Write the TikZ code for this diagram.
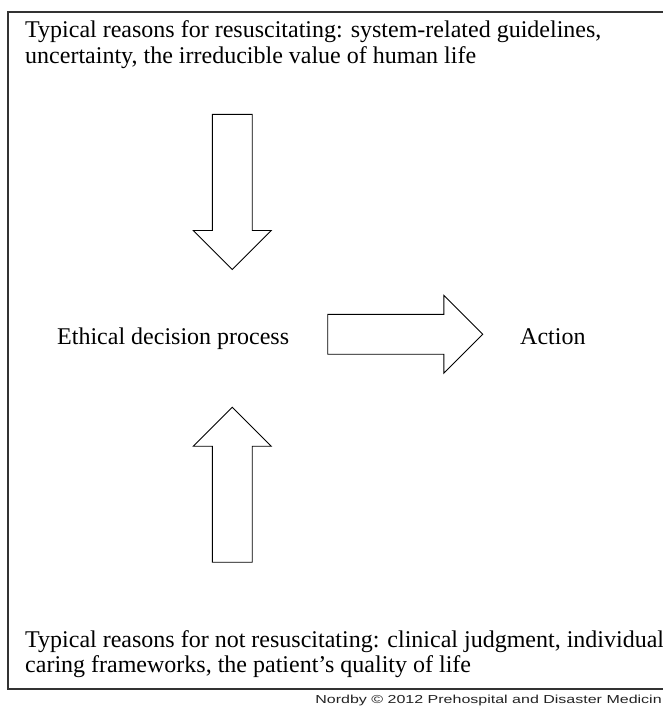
\documentclass[tikz,border=0pt]{standalone}
\usepackage{fontspec}
\setmainfont{Liberation Serif}
\newfontfamily\creditfont{Liberation Sans}
\usetikzlibrary{shapes.arrows, positioning}
\definecolor{framegray}{HTML}{333333}
\definecolor{creditgray}{HTML}{222222}
\tikzset{
  reasontxt/.style = {font=\fontsize{24}{25.5}\selectfont, align=left,
                      anchor=base west, inner sep=0pt},
  steptxt/.style   = {font=\fontsize{24}{25.5}\selectfont,
                      anchor=base west, inner sep=0pt},
  blockarr/.style  = {single arrow, draw=black, line width=0.9pt, fill=white,
                      minimum height=155pt, inner xsep=0pt, inner ysep=19.5pt,
                      single arrow head extend=19pt, anchor=tail},
  credittxt/.style = {font=\creditfont\fontsize{11.6}{12}\selectfont,
                      text=creditgray, anchor=base east, inner sep=0pt,
                      xscale=1.38, transform shape},
}

\begin{document}
\begin{tikzpicture}[x=1pt, y=-1pt]
    \useasboundingbox (0,0) rectangle (662,706);
    \draw[framegray, line width=1.3pt] (8,12) rectangle (672,689);

    % the base anchor sits on the last line
    \node[reasontxt] (pro) at (25,63.5)
         {Typical reasons for resuscitating: system-related guidelines,\\
          uncertainty, the irreducible value of human life};
    \node[reasontxt] (contra) at (25,672.5)
         {Typical reasons for not resuscitating: clinical judgment, individual\\
          caring frameworks, the patient's quality of life};

    \node[steptxt] (ethic) at (57,344.5) {Ethical decision process};
    \node[steptxt] (act) at (520,344.5) {Action};

    % block arrows, placed by their tails
    \node[blockarr, rotate=-90] (arrdown) at (232.3,114) {};
    \node[blockarr, rotate=90] (arrup) at (232.3,562.7) {};
    \node[blockarr] (arrright) at (327.3,334.3) {};

    \node[credittxt] (credit) at (662,703.5)
         {Nordby \textcopyright{} 2012 Prehospital and Disaster Medicin};
\end{tikzpicture}
\end{document}
